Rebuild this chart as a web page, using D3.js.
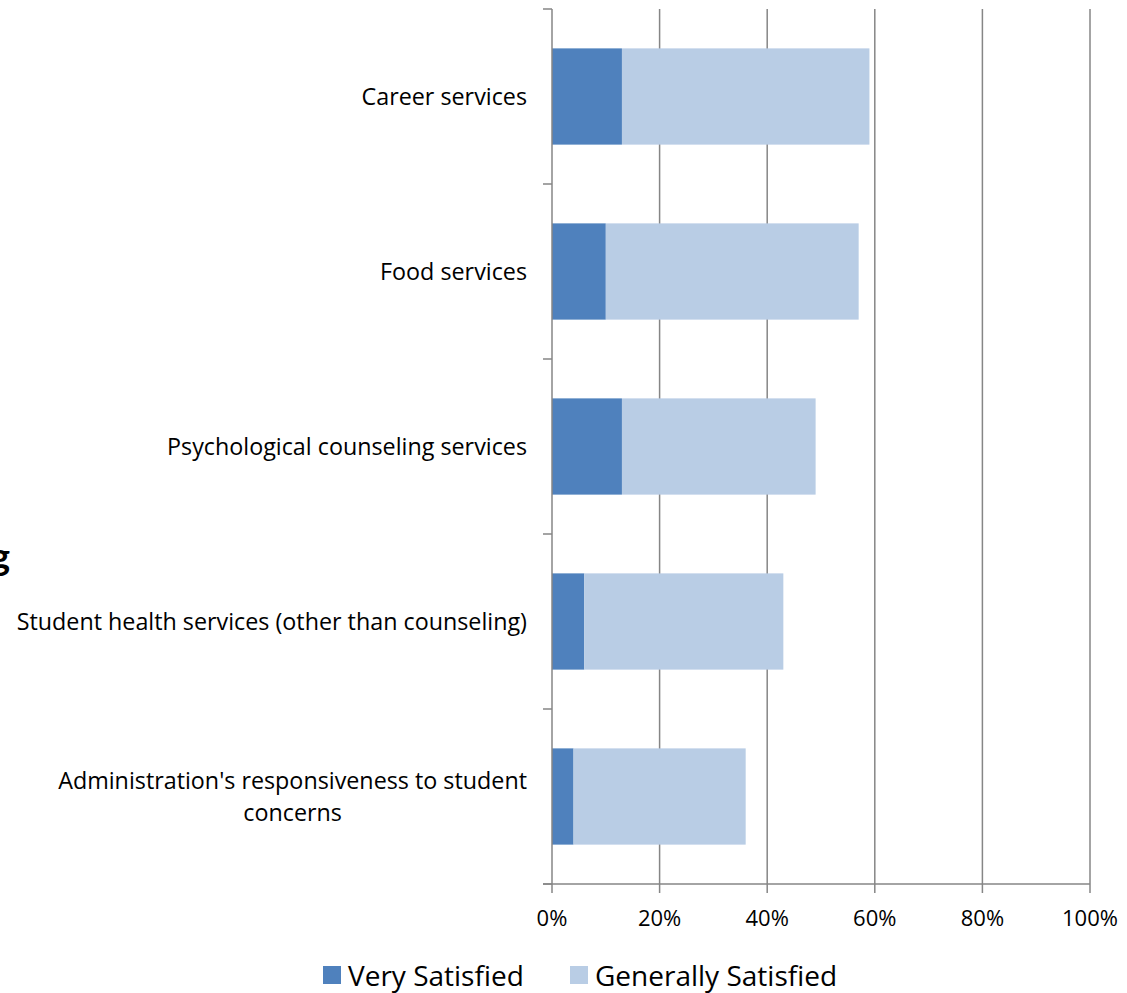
<!DOCTYPE html>
<html><head><meta charset="utf-8">
<script src="https://cdn.jsdelivr.net/npm/d3@7"></script>
<style>body{margin:0;background:#fff}svg{display:block}text{font-family:"Open Sans",Lato,sans-serif;fill:#000}</style>
</head><body><svg id="c" width="1127" height="993"></svg>
<script>
const categories = ["Career services","Food services","Psychological counseling services","Student health services (other than counseling)","Administration's responsiveness to student concerns"];
const labelLines = [["Career services"],["Food services"],["Psychological counseling services"],["Student health services (other than counseling)"],["Administration's responsiveness to student","concerns"]];
const verySatisfied = [13,10,13,6,4];
const generallySatisfied = [46,47,36,37,32];
const seriesNames = ["Very Satisfied","Generally Satisfied"];
const colors = ["#4F81BD","#B9CDE5"];
const xTicks = [0,20,40,60,80,100];

const svg = d3.select("#c");
const L = 552, R = 1090, T = 9, B = 884;
const x = d3.scaleLinear().domain([0,100]).range([L,R]);
const y = d3.scaleBand().domain(categories).range([T,B]).paddingInner(0.45).paddingOuter(0.225);
const grid = "#868686";

// gridlines
svg.append("g").selectAll("line").data(xTicks.slice(1)).join("line")
  .attr("x1",d=>x(d)).attr("x2",d=>x(d)).attr("y1",T).attr("y2",B)
  .attr("stroke",grid).attr("stroke-width",1.5);

// bars
const rows = categories.map((c,i)=>({c, v:[verySatisfied[i],generallySatisfied[i]]}));
rows.forEach(r=>{
  let acc=0;
  r.v.forEach((v,k)=>{
    svg.append("rect").attr("x",x(acc)).attr("width",x(acc+v)-x(acc))
      .attr("y",y(r.c)).attr("height",y.bandwidth()).attr("fill",colors[k]);
    acc+=v;
  });
});

// y axis
svg.append("line").attr("x1",L).attr("x2",L).attr("y1",T).attr("y2",B).attr("stroke",grid).attr("stroke-width",1.5);
const yTickPos = d3.range(categories.length+1).map(i=>T+i*(B-T)/categories.length);
svg.append("g").selectAll("line").data(yTickPos).join("line")
  .attr("x1",L-9).attr("x2",L).attr("y1",d=>d).attr("y2",d=>d).attr("stroke",grid).attr("stroke-width",1.5);

// x axis
svg.append("line").attr("x1",L-9).attr("x2",R).attr("y1",B).attr("y2",B).attr("stroke",grid).attr("stroke-width",1.5);
svg.append("g").selectAll("line").data(xTicks).join("line")
  .attr("x1",d=>x(d)).attr("x2",d=>x(d)).attr("y1",B).attr("y2",B+9).attr("stroke",grid).attr("stroke-width",1.5);
svg.append("g").selectAll("text").data(xTicks).join("text")
  .attr("x",d=>x(d)).attr("y",926).attr("text-anchor","middle").attr("font-size",22)
  .text(d=>d+"%");

// category labels
categories.forEach((c,i)=>{
  const lines = labelLines[i];
  const cy = y(c)+y.bandwidth()/2;
  const lh = 32;
  const t = svg.append("text").attr("font-size",23.3).attr("text-anchor","middle");
  lines.forEach((ln,j)=>{
    t.append("tspan").attr("x",0).attr("y",cy+8+(j-(lines.length-1)/2)*lh).text(ln);
  });
  const w = t.node().getBBox().width;
  t.attr("transform",`translate(${527-w/2},0)`);
});

// cropped title fragment (partially outside the frame in the reference)
svg.append("text").attr("x",10).attr("y",570).attr("text-anchor","end")
  .style("font-family","Lato, sans-serif")
  .attr("font-size",38).attr("font-weight","bold").text("g");

// legend
const lg = [{x:323},{x:570}];
seriesNames.forEach((n,i)=>{
  svg.append("rect").attr("x",lg[i].x).attr("y",966).attr("width",18).attr("height",18).attr("fill",colors[i]);
  svg.append("text").attr("x",lg[i].x+25).attr("y",986).attr("font-size",28).text(n);
});
</script></body></html>
